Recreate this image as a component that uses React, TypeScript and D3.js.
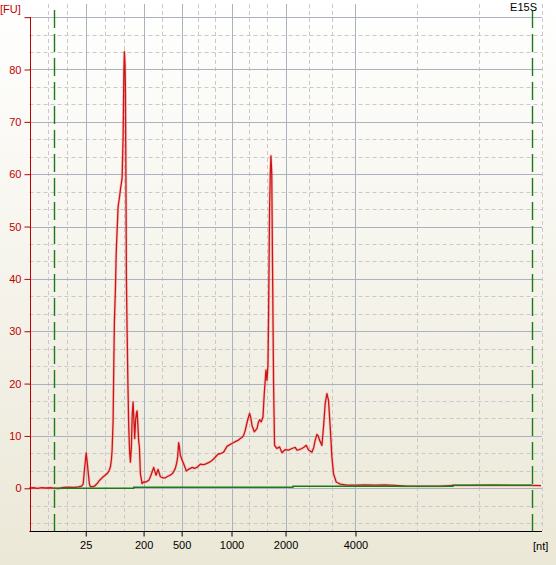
import React, { useEffect, useRef } from 'react';
import * as d3 from 'd3';

// electropherogram trace: migration time [s] and fluorescence [FU]
const traceTime = [
  19.0, 19.4, 19.8, 20.2, 20.6, 21.1, 21.6, 21.9, 22.4, 22.9, 23.4, 23.9, 24.2, 24.37, 24.5, 24.67, 24.75, 24.85,
  25.0, 25.1, 25.3, 25.5, 25.77, 26.0, 26.27, 26.5, 26.77, 26.95, 27.1, 27.2, 27.27, 27.37, 27.43, 27.5, 27.6,
  27.68, 27.77, 27.87, 28.0, 28.1, 28.27, 28.37, 28.45, 28.5, 28.56, 28.6, 28.65, 28.7, 28.77, 28.85, 28.93,
  29.02, 29.1, 29.2, 29.28, 29.37, 29.45, 29.53, 29.62, 29.7, 29.77, 29.85, 29.93, 30.0, 30.1, 30.27, 30.43,
  30.65, 30.93, 31.1, 31.27, 31.43, 31.55, 31.67, 31.87, 32.1, 32.35, 32.6, 32.85, 33.1, 33.35, 33.6, 33.75,
  33.83, 33.93, 34.0, 34.1, 34.25, 34.43, 34.7, 34.9, 35.1, 35.3, 35.5, 35.77, 36.1, 36.4, 36.6, 36.93, 37.2,
  37.43, 37.77, 37.93, 38.1, 38.43, 38.77, 38.93, 39.3, 39.6, 39.9, 40.1, 40.27, 40.43, 40.6, 40.83, 41.03,
  41.15, 41.27, 41.5, 41.77, 41.9, 42.03, 42.2, 42.37, 42.5, 42.67, 42.77, 42.87, 42.93, 43.03, 43.1, 43.17,
  43.25, 43.33, 43.43, 43.53, 43.77, 44.03, 44.27, 44.6, 44.93, 45.27, 45.6, 45.77, 46.0, 46.27, 46.5, 46.7,
  46.93, 47.27, 47.45, 47.6, 47.77, 47.9, 48.03, 48.27, 48.43, 48.6, 48.77, 48.93, 49.1, 49.27, 49.43, 49.7,
  50.1, 50.77, 51.6, 52.6, 53.6, 54.6, 55.6, 56.6, 58.1, 60.1, 61.4, 63.1, 65.1, 67.1, 69.1, 70.2,
];
const traceFU = [
  0.05, 0.1, 0.0, 0.12, 0.05, 0.1, 0.0, -0.05, 0.15, 0.2, 0.15, 0.25, 0.4, 0.8, 3.5, 6.75, 5.5, 3.5,
  0.8, 0.3, 0.3, 0.4, 0.9, 1.5, 2.0, 2.4, 2.8, 3.3, 4.1, 5.5, 7.3, 13, 22.6, 32, 38,
  45, 49.3, 53.8, 55.5, 57, 59.3, 67, 80, 83.4, 81, 76.5, 60, 40, 30, 20, 12,
  7, 5.0, 8, 14, 16.5, 13, 9.5, 13, 14.3, 14.8, 12, 9, 7.9, 2.8, 0.9, 1.2,
  1.2, 1.5, 2.2, 3.1, 4.0, 3.2, 2.5, 3.6, 2.2, 2.0, 2.0, 2.3, 2.5, 2.9, 3.8, 5.0,
  6.0, 8.7, 8.0, 6.3, 5.5, 4.7, 3.3, 3.6, 3.8, 4.0, 3.8, 4.0, 4.6, 4.5, 4.6, 4.9, 5.2,
  5.6, 6.3, 6.6, 6.6, 6.9, 8.0, 8.2, 8.6, 8.9, 9.2, 9.5, 9.7, 10.1, 11.1, 13, 14.3,
  13.5, 12, 10.8, 11.4, 12.5, 13.1, 12.7, 13.6, 18.1, 22.6, 20.6, 23.5, 32.5, 53.2, 60, 63.5,
  60, 41.7, 20, 8.2, 7.6, 7.9, 6.8, 7.4, 7.3, 7.6, 7.8, 7.3, 7.4, 7.6, 7.9, 8.2,
  7.3, 6.9, 7.8, 9.2, 10.3, 10.0, 9.2, 8.2, 11.7, 16.2, 18.1, 16.8, 11.7, 6.0, 2.8, 1.2,
  0.8, 0.6, 0.6, 0.65, 0.6, 0.65, 0.55, 0.4, 0.38, 0.38, 0.55, 0.55, 0.6, 0.55, 0.55, 0.5,
];

// baseline (green) steps between the markers
const baseTime = [21.43, 29.43, 45.37, 61.4, 69.3];
const baseFU = [0, 0.19, 0.38, 0.57, 0.57];

// ladder sizes shown on x axis and where they migrate
const ladderLabels = ['25', '200', '500', '1000', '2000', '4000'];
const ladderTime = [24.63, 30.42, 34.23, 39.22, 44.63, 51.63];
const minorTime = [20.87, 22.77, 26.55, 28.48, 32.3, 35.87, 37.53, 41.0, 42.8, 46.96, 49.29, 57.83, 64.03, 70.27];
const markerTime = [21.43, 69.3];

const fuTicks = [0, 10, 20, 30, 40, 50, 60, 70, 80, 90];
const fuLabels = ['0', '10', '20', '30', '40', '50', '60', '70', '80', ''];

const sampleName = 'E15S';

const W = 556;
const H = 565;

function App() {
  const ref = useRef<SVGSVGElement>(null);

  useEffect(() => {
    const svg = d3.select(ref.current);
    svg.selectAll('*').remove();

    const x = d3.scaleLinear().domain([19, 70.3]).range([29.5, 542]);
    const y = d3.scaleLinear().domain([-8.16, 90]).range([531, 17.15]);

    // background gradient
    const grad = svg.append('defs').append('linearGradient')
      .attr('id', 'bg').attr('x1', 0).attr('y1', 0).attr('x2', 0).attr('y2', 1);
    grad.append('stop').attr('offset', '0%').attr('stop-color', '#ffffff');
    grad.append('stop').attr('offset', '100%').attr('stop-color', '#ebe8d7');
    svg.append('rect').attr('width', W).attr('height', H).attr('fill', 'url(#bg)');

    const x0 = x.range()[0];
    const x1 = x.range()[1];
    const yb = y(-8.16);

    // dashed minor grid
    const minorFU = d3.range(-2, 27).map((i) => (i * 10) / 3).filter((v) => Math.abs(v % 10) > 0.01);
    svg.append('g').selectAll('line').data(minorFU).join('line')
      .attr('x1', x0).attr('x2', x1)
      .attr('y1', (d) => Math.round(y(d)) + 0.5).attr('y2', (d) => Math.round(y(d)) + 0.5)
      .attr('stroke', '#c9c9c9').attr('stroke-dasharray', '4,3');
    svg.append('g').selectAll('line').data(minorTime).join('line')
      .attr('x1', (d) => Math.round(x(d)) + 0.5).attr('x2', (d) => Math.round(x(d)) + 0.5)
      .attr('y1', 4).attr('y2', yb)
      .attr('stroke', '#c9c9c9').attr('stroke-dasharray', '4,3');

    // solid major grid
    svg.append('g').selectAll('line').data(fuTicks).join('line')
      .attr('x1', x0).attr('x2', x1)
      .attr('y1', (d) => Math.round(y(d)) + 0.5).attr('y2', (d) => Math.round(y(d)) + 0.5)
      .attr('stroke', '#aab2be');
    svg.append('g').selectAll('line').data(ladderTime).join('line')
      .attr('x1', (d) => Math.round(x(d)) + 0.5).attr('x2', (d) => Math.round(x(d)) + 0.5)
      .attr('y1', 4).attr('y2', yb)
      .attr('stroke', '#aab2be');

    // trace
    const pts: [number, number][] = traceTime.map((t, i) => [t, traceFU[i]]);
    const line = d3.line<[number, number]>().x((d) => x(d[0])).y((d) => y(d[1]));
    svg.append('path').datum(pts)
      .attr('fill', 'none').attr('stroke', '#f4a0a0').attr('stroke-width', 3).attr('opacity', 0.45)
      .attr('stroke-linejoin', 'round')
      .attr('d', line);
    svg.append('path').datum(pts)
      .attr('fill', 'none').attr('stroke', '#cc1414').attr('stroke-width', 1.3)
      .attr('stroke-linejoin', 'round')
      .attr('d', line);

    // baseline
    const bpts: [number, number][] = baseTime.map((t, i) => [t, baseFU[i]]);
    svg.append('path').datum(bpts)
      .attr('fill', 'none').attr('stroke', '#1c7a1c').attr('stroke-width', 1.4)
      .attr('d', d3.line<[number, number]>().x((d) => x(d[0])).y((d) => y(d[1])).curve(d3.curveStepAfter));

    // marker lines
    svg.append('g').selectAll('line').data(markerTime).join('line')
      .attr('x1', (d) => Math.round(x(d)) + 0.5).attr('x2', (d) => Math.round(x(d)) + 0.5)
      .attr('y1', 10).attr('y2', yb)
      .attr('stroke', '#1c7a1c').attr('stroke-width', 1.4).attr('stroke-dasharray', '18,6');

    // y axis (red)
    const yAxis = svg.append('g').attr('transform', `translate(${Math.round(x0) + 0.5},0)`)
      .call(d3.axisLeft(y).tickValues(fuTicks).tickSize(6).tickPadding(3)
        .tickFormat((d, i) => fuLabels[i]));
    yAxis.select('.domain').attr('d', `M0,${y(90)}V${yb}`).attr('stroke', '#c00000');
    yAxis.selectAll('line').attr('stroke', '#c00000');
    yAxis.selectAll('text').attr('fill', '#c00000')
      .style('font-family', '"Liberation Sans", Arial, sans-serif').style('font-size', '11px');

    // x axis (black)
    const xAxis = svg.append('g').attr('transform', `translate(0,${Math.round(yb) + 0.5})`)
      .call(d3.axisBottom(x).tickValues(ladderTime).tickSize(5).tickPadding(5)
        .tickFormat((d, i) => ladderLabels[i]));
    xAxis.select('.domain').attr('d', `M${x0},0H${x1}`).attr('stroke', '#000');
    xAxis.selectAll('line').attr('stroke', '#000');
    xAxis.selectAll('text').attr('fill', '#000')
      .style('font-family', '"Liberation Sans", Arial, sans-serif').style('font-size', '11px');

    // axis units and sample name
    svg.append('text').attr('x', 0).attr('y', 13)
      .style('font-family', '"Liberation Sans", Arial, sans-serif').style('font-size', '11px')
      .attr('fill', '#c00000').text('[FU]');
    svg.append('text').attr('x', 533).attr('y', 550)
      .style('font-family', '"Liberation Sans", Arial, sans-serif').style('font-size', '11px')
      .attr('fill', '#000').text('[nt]');
    svg.append('text').attr('x', 537).attr('y', 11).attr('text-anchor', 'end')
      .style('font-family', '"Liberation Sans", Arial, sans-serif').style('font-size', '11px')
      .attr('fill', '#000').text(sampleName);
  }, []);

  return (
    <div style={{ position: 'absolute', left: 0, top: 0 }}>
      <svg ref={ref} width={W} height={H} style={{ display: 'block' }}></svg>
    </div>
  );
}

export default App;
